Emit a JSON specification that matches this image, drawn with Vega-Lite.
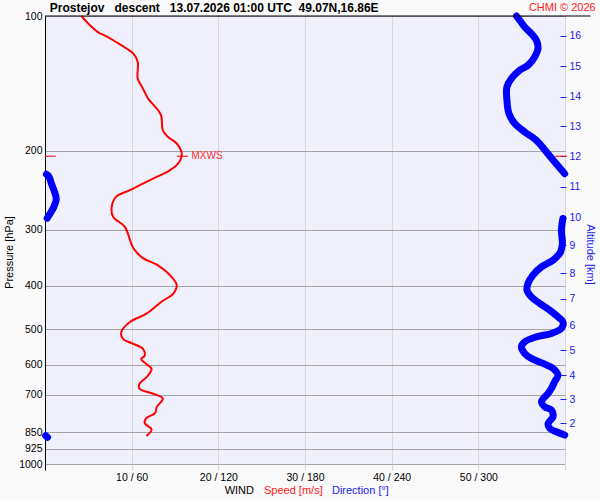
{
  "$schema": "https://vega.github.io/schema/vega-lite/v6.json",
  "width": 520,
  "height": 448,
  "autosize": {"type": "none"},
  "padding": {"left": 45, "top": 16, "right": 35, "bottom": 36},
  "background": "#fafafa",
  "config": {"view": {"fill": "#f0f0fc", "stroke": null}, "font": "Liberation Sans"},
  "datasets": {
    "speed": [
      {"p": 100, "s": 4.2}, {"p": 104, "s": 5.0}, {"p": 108.6, "s": 6.1}, {"p": 111, "s": 7.1},
      {"p": 114.3, "s": 8.2}, {"p": 118.2, "s": 9.4}, {"p": 121.3, "s": 10.2}, {"p": 126.6, "s": 10.7},
      {"p": 137.9, "s": 10.7}, {"p": 145.2, "s": 11.3}, {"p": 152.9, "s": 11.9}, {"p": 161, "s": 12.9},
      {"p": 166.6, "s": 13.4}, {"p": 179.9, "s": 13.6}, {"p": 186.2, "s": 14.2}, {"p": 192.6, "s": 15.2},
      {"p": 201, "s": 15.75}, {"p": 206.3, "s": 15.75}, {"p": 215.3, "s": 15.2}, {"p": 221, "s": 14.4},
      {"p": 228.6, "s": 12.9}, {"p": 236.6, "s": 11.3}, {"p": 244.8, "s": 9.8}, {"p": 253.3, "s": 8.2},
      {"p": 266.6, "s": 7.7}, {"p": 280.6, "s": 7.85}, {"p": 295.3, "s": 9.2}, {"p": 330, "s": 10.2},
      {"p": 347, "s": 11.3}, {"p": 359, "s": 12.9}, {"p": 378.5, "s": 14.4}, {"p": 398.8, "s": 15.2},
      {"p": 416.5, "s": 14.8}, {"p": 434.9, "s": 13.4}, {"p": 461.9, "s": 11.7}, {"p": 482, "s": 9.8},
      {"p": 507.6, "s": 8.8}, {"p": 525.4, "s": 9.0}, {"p": 539.2, "s": 10.2}, {"p": 553.4, "s": 11.3},
      {"p": 572.9, "s": 11.5}, {"p": 582.8, "s": 11.1}, {"p": 598.1, "s": 11.7}, {"p": 613.8, "s": 12.3},
      {"p": 640.6, "s": 11.7}, {"p": 662.5, "s": 10.9}, {"p": 679.4, "s": 10.9}, {"p": 696.8, "s": 12.5},
      {"p": 714.7, "s": 13.6}, {"p": 745.6, "s": 12.9}, {"p": 769.6, "s": 12.7}, {"p": 789.5, "s": 11.7},
      {"p": 809.8, "s": 11.5}, {"p": 837.6, "s": 12.3}, {"p": 866.4, "s": 11.7}
    ],
    "dir": [
      {"seg": "A", "p": 100, "d": 326.4}, {"seg": "A", "p": 102.2, "d": 328.6}, {"seg": "A", "p": 105.8, "d": 332.1},
      {"seg": "A", "p": 109.5, "d": 336.7}, {"seg": "A", "p": 113.3, "d": 340.2}, {"seg": "A", "p": 118.2, "d": 341.3},
      {"seg": "A", "p": 123.4, "d": 339.0}, {"seg": "A", "p": 128.8, "d": 334.4}, {"seg": "A", "p": 132.1, "d": 328.6},
      {"seg": "A", "p": 137.9, "d": 322.9}, {"seg": "A", "p": 144.0, "d": 319.8}, {"seg": "A", "p": 154.2, "d": 319.8},
      {"seg": "A", "p": 165.1, "d": 321.2}, {"seg": "A", "p": 173.8, "d": 325.2}, {"seg": "A", "p": 181.5, "d": 332.1},
      {"seg": "A", "p": 189.5, "d": 340.2}, {"seg": "A", "p": 199.0, "d": 346.0}, {"seg": "A", "p": 209.7, "d": 351.7},
      {"seg": "A", "p": 224.9, "d": 359.8},
      {"seg": "B", "p": 225.5, "d": 1.0}, {"seg": "B", "p": 227.8, "d": 2.6}, {"seg": "B", "p": 237.4, "d": 4.6},
      {"seg": "B", "p": 247.4, "d": 6.7}, {"seg": "B", "p": 256.4, "d": 7.8}, {"seg": "B", "p": 267.2, "d": 6.0},
      {"seg": "B", "p": 276.9, "d": 3.3}, {"seg": "B", "p": 282.7, "d": 1.5},
      {"seg": "C", "p": 283.1, "d": 358.6}, {"seg": "C", "p": 300.6, "d": 357.5}, {"seg": "C", "p": 322.0, "d": 358.2},
      {"seg": "C", "p": 336.1, "d": 357.0}, {"seg": "C", "p": 350.8, "d": 351.7}, {"seg": "C", "p": 363.1, "d": 343.7},
      {"seg": "C", "p": 378.8, "d": 337.8}, {"seg": "C", "p": 395.3, "d": 334.4}, {"seg": "C", "p": 409.2, "d": 333.7},
      {"seg": "C", "p": 423.5, "d": 336.7}, {"seg": "C", "p": 438.1, "d": 342.5}, {"seg": "C", "p": 453.5, "d": 349.4},
      {"seg": "C", "p": 469.4, "d": 355.1}, {"seg": "C", "p": 481.6, "d": 358.6}, {"seg": "C", "p": 498.2, "d": 357.5},
      {"seg": "C", "p": 511.2, "d": 350.6}, {"seg": "C", "p": 520.1, "d": 340.2}, {"seg": "C", "p": 533.7, "d": 332.1},
      {"seg": "C", "p": 547.6, "d": 329.8}, {"seg": "C", "p": 566.4, "d": 332.1}, {"seg": "C", "p": 581.1, "d": 336.7},
      {"seg": "C", "p": 596.3, "d": 344.8}, {"seg": "C", "p": 611.8, "d": 351.7}, {"seg": "C", "p": 633.2, "d": 355.1},
      {"seg": "C", "p": 655.4, "d": 352.8}, {"seg": "C", "p": 678.0, "d": 350.6}, {"seg": "C", "p": 695.7, "d": 348.3},
      {"seg": "C", "p": 726.1, "d": 343.7}, {"seg": "C", "p": 745.1, "d": 346.0}, {"seg": "C", "p": 757.8, "d": 350.6},
      {"seg": "C", "p": 784.4, "d": 351.7}, {"seg": "C", "p": 811.4, "d": 348.3}, {"seg": "C", "p": 832.6, "d": 349.4},
      {"seg": "C", "p": 847.3, "d": 354.0}, {"seg": "C", "p": 861.8, "d": 359.8},
      {"seg": "D", "p": 865, "d": 0.5}, {"seg": "D", "p": 872, "d": 1.8}
    ]
  },
  "layer": [
    {
      "data": {"name": "speed"},
      "mark": {"type": "line", "color": "#ff0000", "strokeWidth": 2, "interpolate": "catmull-rom"},
      "encoding": {
        "x": {
          "field": "s", "type": "quantitative",
          "scale": {"domain": [0, 60], "nice": false, "zero": false},
          "axis": {
            "values": [0, 10, 20, 30, 40, 50, 60],
            "labelExpr": "datum.value > 0 && datum.value < 60 ? datum.value + ' / ' + (datum.value * 6) : ''",
            "grid": true,
            "gridColor": {"condition": {"test": "datum.value === 0", "value": "#000000"}, "value": "#d8d8d8"},
            "tickColor": {"condition": {"test": "datum.value === 0", "value": "#000000"}, "value": "#d8d8d8"},
            "tickSize": 6,
            "domain": false,
            "labelColor": "#000000",
            "labelFontSize": 10.5,
            "labelFont": "Liberation Sans",
            "labelPadding": 2,
            "labelFlush": false,
            "labelOverlap": false,
            "title": null
          }
        },
        "y": {
          "field": "p", "type": "quantitative",
          "scale": {"type": "log", "domain": [100, 1000], "reverse": true, "nice": false},
          "axis": {
            "values": [100, 200, 300, 400, 500, 600, 700, 850, 925, 1000],
            "format": "d",
            "grid": true,
            "gridColor": "#a4a4a4",
            "domain": true,
            "domainColor": "#000000",
            "ticks": false,
            "labelPadding": 3,
            "labelColor": "#000000",
            "labelFontSize": 10.5,
            "labelFont": "Liberation Sans",
            "labelOverlap": false,
            "title": "Pressure [hPa]",
            "titleFont": "Liberation Sans",
            "titleFontSize": 11,
            "titleFontWeight": "normal",
            "titleColor": "#000000",
            "titleY": 236
          }
        },
        "order": {"field": "p", "type": "quantitative"}
      }
    },
    {
      "data": {"name": "dir"},
      "mark": {"type": "line", "color": "#0000ff", "strokeWidth": 7, "strokeCap": "round", "strokeJoin": "round", "interpolate": "catmull-rom"},
      "encoding": {
        "x": {
          "field": "d", "type": "quantitative",
          "scale": {"domain": [0, 360], "nice": false, "zero": false},
          "axis": null
        },
        "y": {
          "field": "p", "type": "quantitative",
          "scale": {"type": "log", "domain": [100, 1000], "reverse": true, "nice": false},
          "axis": {
            "orient": "right",
            "values": [810, 716.1, 634.1, 556.9, 490.5, 427.9, 375, 324.8, 281.7, 240.7, 205.6, 176.2, 151.6, 129.5, 110.8],
            "labelExpr": "'' + (indexof([810, 716.1, 634.1, 556.9, 490.5, 427.9, 375, 324.8, 281.7, 240.7, 205.6, 176.2, 151.6, 129.5, 110.8], datum.value) + 2)",
            "offset": -5,
            "tickSize": 6,
            "tickColor": "#2020ee",
            "domain": false,
            "grid": false,
            "labelColor": "#2020ee",
            "labelFontSize": 10.5,
            "labelFont": "Liberation Sans",
            "labelPadding": 3,
            "labelOverlap": false,
            "title": "Altitude [km]",
            "titleColor": "#2020ee",
            "titleFont": "Liberation Sans",
            "titleFontSize": 11,
            "titleFontWeight": "normal",
            "titlePadding": 4,
            "titleY": 238
          }
        },
        "detail": {"field": "seg"},
        "order": {"field": "p", "type": "quantitative"}
      }
    },
    {
      "data": {"values": [{}]},
      "mark": {"type": "rule", "color": "#ff0000", "strokeWidth": 1},
      "encoding": {
        "x": {"datum": 15.2, "type": "quantitative", "scale": {"domain": [0, 60], "nice": false, "zero": false}, "axis": null},
        "x2": {"datum": 16.5},
        "y": {"datum": 205.6, "type": "quantitative", "scale": {"type": "log", "domain": [100, 1000], "reverse": true, "nice": false}, "axis": null}
      }
    },
    {
      "data": {"values": [{}]},
      "mark": {"type": "rule", "color": "#ff0000", "strokeWidth": 1},
      "encoding": {
        "x": {"datum": 0, "type": "quantitative", "scale": {"domain": [0, 60], "nice": false, "zero": false}, "axis": null},
        "x2": {"datum": 1.25},
        "y": {"datum": 205.6, "type": "quantitative", "scale": {"type": "log", "domain": [100, 1000], "reverse": true, "nice": false}, "axis": null}
      }
    },
    {
      "data": {"values": [{}]},
      "mark": {"type": "rule", "color": "#ff0000", "strokeWidth": 1},
      "encoding": {
        "x": {"datum": 58.85, "type": "quantitative", "scale": {"domain": [0, 60], "nice": false, "zero": false}, "axis": null},
        "x2": {"datum": 60.2},
        "y": {"datum": 205.6, "type": "quantitative", "scale": {"type": "log", "domain": [100, 1000], "reverse": true, "nice": false}, "axis": null}
      }
    },
    {
      "data": {"values": [{}]},
      "mark": {"type": "rule", "color": "#000000", "strokeWidth": 1},
      "encoding": {
        "x": {"datum": 0, "type": "quantitative", "scale": {"domain": [0, 60], "nice": false, "zero": false}, "axis": null},
        "x2": {"datum": 62.96},
        "y": {"datum": 100, "type": "quantitative", "scale": {"type": "log", "domain": [100, 1000], "reverse": true, "nice": false}, "axis": null}
      }
    },
    {
      "data": {"values": [{}]},
      "mark": {"type": "text", "text": "Prostejov\u00a0\u00a0\u00a0descent\u00a0\u00a0\u00a013.07.2026 01:00 UTC\u00a0\u00a049.07N,16.86E", "color": "#000000", "fontSize": 12, "fontWeight": "bold", "align": "left", "baseline": "alphabetic", "font": "Liberation Sans"},
      "encoding": {
        "x": {"datum": 0.55, "type": "quantitative", "scale": {"domain": [0, 60], "nice": false, "zero": false}, "axis": null},
        "y": {"datum": 97.8, "type": "quantitative", "scale": {"type": "log", "domain": [100, 1000], "reverse": true, "nice": false}, "axis": null}
      }
    },
    {
      "data": {"values": [{}]},
      "mark": {"type": "text", "text": "MXWS", "color": "#ff3333", "fontSize": 10, "align": "left", "baseline": "middle", "font": "Liberation Sans"},
      "encoding": {
        "x": {"datum": 16.9, "type": "quantitative", "scale": {"domain": [0, 60], "nice": false, "zero": false}, "axis": null},
        "y": {"datum": 205.6, "type": "quantitative", "scale": {"type": "log", "domain": [100, 1000], "reverse": true, "nice": false}, "axis": null}
      }
    },
    {
      "data": {"values": [{}]},
      "mark": {"type": "text", "text": "CHMI © 2026", "color": "#ff2020", "fontSize": 11, "align": "right", "baseline": "alphabetic", "font": "Liberation Sans"},
      "encoding": {
        "x": {"datum": 63.54, "type": "quantitative", "scale": {"domain": [0, 60], "nice": false, "zero": false}, "axis": null},
        "y": {"datum": 97.6, "type": "quantitative", "scale": {"type": "log", "domain": [100, 1000], "reverse": true, "nice": false}, "axis": null}
      }
    },
    {
      "data": {"values": [{}]},
      "mark": {"type": "text", "text": "WIND", "color": "#000000", "fontSize": 11, "align": "left", "baseline": "middle", "font": "Liberation Sans"},
      "encoding": {
        "x": {"datum": 20.73, "type": "quantitative", "scale": {"domain": [0, 60], "nice": false, "zero": false}, "axis": null},
        "y": {"datum": 1150, "type": "quantitative", "scale": {"type": "log", "domain": [100, 1000], "reverse": true, "nice": false}, "axis": null}
      }
    },
    {
      "data": {"values": [{}]},
      "mark": {"type": "text", "text": "Speed [m/s]", "color": "#ff2020", "fontSize": 11, "align": "left", "baseline": "middle", "font": "Liberation Sans"},
      "encoding": {
        "x": {"datum": 25.27, "type": "quantitative", "scale": {"domain": [0, 60], "nice": false, "zero": false}, "axis": null},
        "y": {"datum": 1150, "type": "quantitative", "scale": {"type": "log", "domain": [100, 1000], "reverse": true, "nice": false}, "axis": null}
      }
    },
    {
      "data": {"values": [{}]},
      "mark": {"type": "text", "text": "Direction [°]", "color": "#2020ee", "fontSize": 11, "align": "left", "baseline": "middle", "font": "Liberation Sans"},
      "encoding": {
        "x": {"datum": 33.11, "type": "quantitative", "scale": {"domain": [0, 60], "nice": false, "zero": false}, "axis": null},
        "y": {"datum": 1150, "type": "quantitative", "scale": {"type": "log", "domain": [100, 1000], "reverse": true, "nice": false}, "axis": null}
      }
    }
  ],
  "resolve": {"scale": {"x": "independent", "y": "independent"}}
}
